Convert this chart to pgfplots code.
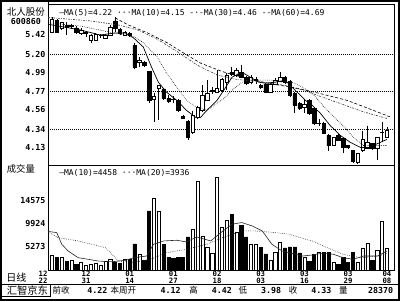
\documentclass[border=0pt]{standalone}
\usepackage{pgfplots}
\pgfplotsset{compat=1.18}
\usepackage{pgfplotstable}
\usepackage{fontspec}
\newfontfamily\mono{DejaVu Sans Mono}
\newfontfamily\cjk{Noto Sans CJK SC}
\newcommand\lb{\mono\bfseries\fontsize{8.3}{9}\selectfont}
\newcommand\lgd{\mono\fontsize{8}{9}\selectfont}
\pgfplotstableread{
i o h l c v
0 5.45 5.62 5.44 5.60 3550
1 5.59 5.60 5.44 5.45 3250
2 5.50 5.57 5.48 5.56 3110
3 5.53 5.57 5.42 5.51 2440
4 5.52 5.55 5.49 5.525 2540
5 5.50 5.52 5.43 5.45 1730
6 5.44 5.50 5.42 5.47 2240
7 5.44 5.47 5.40 5.445 1530
8 5.36 5.43 5.33 5.42 1840
9 5.36 5.44 5.35 5.43 2040
10 5.41 5.43 5.38 5.415 1630
11 5.385 5.43 5.37 5.42 2440
12 5.42 5.53 5.41 5.51 2740
13 5.58 5.62 5.45 5.49 2240
14 5.48 5.50 5.42 5.44 2040
15 5.42 5.46 5.41 5.45 2790
16 5.44 5.45 5.39 5.41 2790
17 5.30 5.33 5.03 5.05 5880
18 5.10 5.165 5.05 5.13 3860
19 5.10 5.12 5.05 5.07 2640
20 5.00 5.01 4.64 4.67 12540
21 4.68 4.75 4.42 4.71 15070
22 4.81 4.85 4.44 4.84 12540
23 4.80 4.81 4.67 4.69 5810
24 4.69 4.73 4.64 4.66 3110
25 4.68 4.72 4.64 4.675 2950
26 4.67 4.68 4.54 4.55 3110
27 4.485 4.50 4.45 4.46 3250
28 4.43 4.44 4.21 4.24 7290
29 4.30 4.55 4.28 4.50 8840
30 4.47 4.60 4.45 4.59 18400
31 4.55 4.84 4.54 4.73 7390
32 4.67 4.90 4.66 4.75 5210
33 4.77 4.82 4.74 4.785 3920
34 4.76 5.015 4.75 4.81 19270
35 4.785 4.93 4.77 4.91 9170
36 4.88 4.98 4.785 4.96 10720
37 4.99 5.05 4.95 4.97 11830
38 4.96 5.04 4.94 5.015 8300
39 4.99 5.07 4.92 4.935 9650
40 4.935 4.95 4.85 4.865 7290
41 4.877 4.96 4.86 4.935 5810
42 4.90 4.94 4.86 4.905 5810
43 4.84 4.86 4.80 4.82 5130
44 4.854 4.87 4.75 4.762 3860
45 4.762 4.87 4.75 4.854 2640
46 4.854 4.92 4.84 4.90 4260
47 4.89 4.99 4.88 4.935 6180
48 4.935 4.95 4.86 4.877 5070
49 4.89 4.90 4.71 4.727 5270
50 4.75 4.76 4.52 4.61 5270
51 4.635 4.65 4.56 4.577 4060
52 4.59 4.68 4.52 4.62 3150
53 4.67 4.68 4.50 4.52 2340
54 4.577 4.59 4.39 4.404 3790
55 4.40 4.45 4.37 4.405 4120
56 4.404 4.42 4.28 4.289 4120
57 4.266 4.28 4.09 4.15 4120
58 4.15 4.25 4.14 4.243 2100
59 4.266 4.28 4.20 4.208 1770
60 4.231 4.24 4.06 4.127 3110
61 4.15 4.16 4.115 4.127 2100
62 4.09 4.10 3.95 3.97 4120
63 3.954 4.07 3.94 4.058 2100
64 4.093 4.32 4.08 4.22 5010
65 4.12 4.38 4.11 4.185 5940
66 4.173 4.18 4.10 4.116 2640
67 4.116 4.25 3.98 4.243 4600
68 4.30 4.42 4.185 4.305 10380
69 4.25 4.36 4.24 4.33 4970
}\kdata
\pgfplotsset{
  pxax/.style={at={(48bp,135bp)}, anchor=south west, scale only axis,
    width=345bp, height=160bp, xmin=-0.83, xmax=70.6, ymin=3.92, ymax=5.765},
  vax/.style={at={(48bp,31bp)}, anchor=south west, scale only axis,
    width=345bp, height=104bp, xmin=-0.83, xmax=70.6, ymin=623, ymax=21631},
  dotl/.style={line width=0.6bp, dash pattern=on 0.6bp off 1.2bp},
}
\begin{document}
\begin{tikzpicture}[x=1bp,y=1bp]
% outer frame
\draw[line width=1.6bp] (1,1) rectangle (397.5,299);
\draw[line width=0.8bp] (48,31) -- (48,298);
\draw[line width=0.8bp] (1,16.7) -- (397.5,16.7);
\draw[line width=0.8bp] (2,4.5) rectangle (50,16.7);
% price axis with grid and wicks
\begin{axis}[pxax, axis line style={line width=0.8bp},
  xtick=\empty, major tick length=0pt, scaled y ticks=false,
  ytick={4.13,4.34,4.56,4.77,4.99,5.20,5.42},
  yticklabels={4.13,4.34,4.56,4.77,4.99,5.20,5.42},
  yticklabel style={font=\lb, inner sep=1bp, xshift=-1.5bp},
  extra y ticks={4.34,4.77,5.20}, extra y tick labels={},
  extra y tick style={grid=major},
  major grid style={black, line width=0.6bp, dash pattern=on 0.6bp off 1.4bp}]
\addplot[mark=none, draw=none, error bars/.cd, y dir=minus, y explicit,
  error mark=none, error bar style={draw=black, line width=0.7bp}]
  table[x=i, y=h, y error minus expr={\thisrow{h}-\thisrow{l}}] \kdata;
\end{axis}
% candle bodies
\begin{axis}[pxax, hide axis, ybar stacked, bar width=3.4bp]
\addplot[draw=none, fill=none] table[x=i, y expr={min(\thisrow{o},\thisrow{c})}] \kdata;
\addplot[fill=white, draw=black, line width=0.6bp] table[x=i, y expr={(\thisrow{c}>=\thisrow{o}) ? (\thisrow{c}-\thisrow{o}) : 0}] \kdata;
\addplot[fill=black, draw=black, line width=0.6bp] table[x=i, y expr={(\thisrow{c}<\thisrow{o}) ? (\thisrow{o}-\thisrow{c}) : 0}] \kdata;
\end{axis}
% moving averages
\begin{axis}[pxax, hide axis]
\addplot[black, line width=0.7bp, mark=none] coordinates {(-0.83,5.54) (0,5.534) (5.8,5.477) (9.9,5.419) (13,5.442) (15.1,5.442) (16.8,5.385) (18.8,5.281) (20.5,5.05) (21.9,4.877) (23.6,4.762) (25.7,4.669) (27.7,4.554) (29.6,4.473) (30.6,4.473) (31.9,4.554) (34,4.669) (35.4,4.785) (37.1,4.935) (39.1,4.992) (41.2,4.923) (42.6,4.877) (43.9,4.866) (46,4.877) (48,4.90) (50.1,4.785) (52.2,4.669) (53.6,4.612) (55.3,4.519) (57.3,4.381) (59.4,4.266) (61.5,4.185) (63.6,4.127) (65.2,4.127) (67.1,4.173) (69,4.22)};
\addplot[black, dotl, mark=none] coordinates {(-0.83,5.56) (6,5.52) (12,5.45) (16.8,5.40) (18.8,5.33) (20.9,5.21) (21.7,5.165) (23.6,4.98) (25.7,4.82) (27.7,4.67) (29.8,4.59) (31.9,4.554) (34,4.635) (35.4,4.69) (37.1,4.785) (39.1,4.877) (41.2,4.90) (45.3,4.90) (47.4,4.877) (49.5,4.877) (51.6,4.82) (53.6,4.75) (56.7,4.554) (58.8,4.44) (60.9,4.323) (62.1,4.243) (64.2,4.15) (67.1,4.15) (69,4.15)};
\addplot[black!80, line width=0.6bp, dash pattern=on 2bp off 1.2bp on 0.6bp off 1.2bp, mark=none] coordinates {(-0.83,5.62) (8,5.58) (14,5.53) (18,5.47) (22,5.36) (26,5.22) (30,5.07) (34,4.96) (38,4.91) (43,4.88) (48,4.84) (52,4.78) (56,4.70) (60,4.62) (64,4.54) (69,4.46)};
\addplot[black, line width=0.6bp, dash pattern=on 3bp off 2bp, mark=none] coordinates {(13,5.615) (15.7,5.534) (19.7,5.442) (23.8,5.327) (27.1,5.212) (30.6,5.096) (35,5.0) (40,4.92) (45,4.86) (50.3,4.81) (55,4.75) (60.7,4.67) (65,4.58) (69.6,4.48)};
\end{axis}
% volume axis
\begin{axis}[vax, axis line style={line width=0.8bp}, major tick length=0pt,
  scaled y ticks=false, scaled x ticks=false,
  ytick={5273,9924,14575}, yticklabels={5273,9924,14575},
  yticklabel style={font=\lb, inner sep=1bp, xshift=-1.5bp},
  xtick={7,16,25,34,43,52,61,69},
  xticklabels={{12\\31},{01\\14},{01\\27},{02\\18},{03\\03},{03\\16},{03\\29},{04\\08}},
  xticklabel style={font=\mono\bfseries\fontsize{7.3}{7}\selectfont, align=center, inner sep=0.8bp}]
\addplot[ybar, bar width=3.2bp, bar shift=0pt, fill=white, draw=black, line width=0.6bp] table[x=i, y expr={(\thisrow{c}>=\thisrow{o}) ? \thisrow{v} : 0}] \kdata;
\addplot[ybar, bar width=3.2bp, bar shift=0pt, fill=black, draw=black, line width=0.6bp] table[x=i, y expr={(\thisrow{c}<\thisrow{o}) ? \thisrow{v} : 0}] \kdata;
\addplot[black!85, line width=0.6bp, mark=none] coordinates {(-0.83,8400) (0.97,8158) (2.0,5814) (3.3,4461) (5.4,3108) (7.5,2784) (9.5,2441) (12.4,2300) (15.1,2582) (16.8,3108) (19.5,3451) (20.9,5814) (23,6481) (25.7,6622) (27.7,6279) (29.8,7289) (32.7,6481) (34.8,8158) (37.1,9854) (39.1,10178) (41.2,9511) (43.3,8501) (45.3,5814) (47.4,4461) (51.6,3451) (53.6,3653) (55.9,4057) (58,3794) (60,3108) (62.1,2784) (64.2,3451) (67.1,3451) (69,4458)};
\addplot[black!85, dotl, mark=none] coordinates {(-0.83,8299) (1.24,7148) (5.4,6481) (11,5127) (13.7,2441) (16.8,2178) (20.3,2784) (23.6,4118) (27.7,4804) (31.9,5814) (35,7087) (39.1,8501) (41.8,8501) (46,8158) (48.9,7834) (52.2,6824) (53.6,6481) (56.7,5127) (60,3794) (63.6,3108) (67.1,3451) (69,3936)};
\end{axis}
% labels
\node[font=\cjk\fontsize{9.5}{10}\selectfont, inner sep=0] at (26,288) {北人股份};
\node[font=\lb, inner sep=0] at (26,278.5) {600860};
\node[font=\cjk\fontsize{9.3}{10}\selectfont, inner sep=0] at (21,132) {成交量};
\node[font=\cjk\fontsize{10}{10}\selectfont, inner sep=0] at (16.5,23) {日线};
\node[font=\mono\bfseries\fontsize{7.3}{7}\selectfont, align=center, inner sep=0, anchor=north] at (43,30) {12\\22};
\node[font=\lgd, anchor=west, inner sep=0] at (59,287) {—MA(5)=4.22 ···MA(10)=4.15 -·-MA(30)=4.46 --MA(60)=4.69};
\node[font=\lgd, anchor=west, inner sep=0] at (59,128) {—MA(10)=4458 ···MA(20)=3936};
% status bar
\node[font=\cjk\fontsize{10.3}{10}\selectfont, inner sep=0] at (27.5,10.5) {汇智京东};
\node[font=\cjk\fontsize{8.5}{9}\selectfont, inner sep=0] at (61,10.5) {前收};
\node[font=\lb, inner sep=0] at (97,10.5) {4.22};
\node[font=\cjk\fontsize{8.5}{9}\selectfont, inner sep=0] at (123,10.5) {本周开};
\node[font=\lb, inner sep=0] at (170,10.5) {4.12};
\node[font=\cjk\fontsize{8.5}{9}\selectfont, inner sep=0] at (193,10.5) {高};
\node[font=\lb, inner sep=0] at (221,10.5) {4.42};
\node[font=\cjk\fontsize{8.5}{9}\selectfont, inner sep=0] at (242,10.5) {低};
\node[font=\lb, inner sep=0] at (270,10.5) {3.98};
\node[font=\cjk\fontsize{8.5}{9}\selectfont, inner sep=0] at (292,10.5) {收};
\node[font=\lb, inner sep=0] at (320,10.5) {4.33};
\node[font=\cjk\fontsize{8.5}{9}\selectfont, inner sep=0] at (342,10.5) {量};
\node[font=\lb, inner sep=0] at (379,10.5) {28370};
\end{tikzpicture}
\end{document}
